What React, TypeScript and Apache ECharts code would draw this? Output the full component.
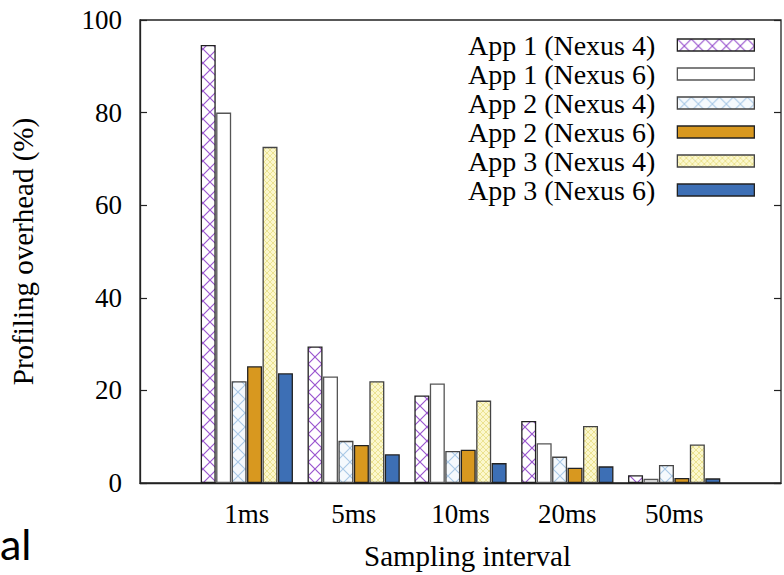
import React, { useEffect, useRef } from "react";
import * as echarts from "echarts";

const categories = ["1ms", "5ms", "10ms", "20ms", "50ms"];
const seriesNames = [
  "App 1 (Nexus 4)",
  "App 1 (Nexus 6)",
  "App 2 (Nexus 4)",
  "App 2 (Nexus 6)",
  "App 3 (Nexus 4)",
  "App 3 (Nexus 6)",
];
const app1Nexus4 = [94.6, 29.5, 18.9, 13.4, 1.7];
const app1Nexus6 = [80.0, 23.0, 21.5, 8.6, 0.9];
const app2Nexus4 = [22.0, 9.1, 6.9, 5.7, 3.9];
const app2Nexus6 = [25.2, 8.2, 7.2, 3.3, 1.1];
const app3Nexus4 = [72.6, 22.0, 17.8, 12.3, 8.3];
const app3Nexus6 = [23.7, 6.2, 4.3, 3.6, 1.0];
const yMin = 0;
const yMax = 100;
const yStep = 20;
const xTitle = "Sampling interval";
const yTitle = "Profiling overhead (%)";
const cornerText = "al";

const SERIF = "'Liberation Serif', 'Times New Roman', serif";
const INK = "#000";

function hatch(bg: string, stroke: string, size: number, sw: number) {
  const svg =
    `<svg xmlns='http://www.w3.org/2000/svg' width='${size}' height='${size}'>` +
    `<rect width='${size}' height='${size}' fill='${bg}'/>` +
    `<path d='M0 0L${size} ${size}M${size} 0L0 ${size}' stroke='${stroke}' stroke-width='${sw}' fill='none'/>` +
    `</svg>`;
  return {
    image: "data:image/svg+xml;charset=utf-8," + encodeURIComponent(svg),
    repeat: "repeat",
    imageWidth: size,
    imageHeight: size,
  };
}

export default function App() {
  const ref = useRef<HTMLDivElement>(null);

  useEffect(() => {
    if (!ref.current) return;
    const chart = echarts.init(ref.current, undefined, { renderer: "svg" });

    const values = [app1Nexus4, app1Nexus6, app2Nexus4, app2Nexus6, app3Nexus4, app3Nexus6];
    const fills: any[] = [
      hatch("#ffffff", "#9a55cf", 14, 1.2),
      "#ffffff",
      hatch("#f5f9fd", "#a9c8e6", 14, 1.1),
      "#d8981f",
      hatch("#fbf7cc", "#e9e08a", 6, 0.9),
      "#3d6fb5",
    ];
    const borders = ["#222222", "#555555", "#444444", "#222222", "#444444", "#222222"];

    const xCats = ["", ...categories, ""];

    const series = seriesNames.map((name, i) => ({
      name,
      type: "bar",
      barWidth: 15,
      barGap: "3%",
      data: [null, ...values[i], null],
      itemStyle: { color: fills[i], borderColor: borders[i], borderWidth: 1.3 },
      emphasis: { disabled: true },
    }));

    const option: any = {
      animation: false,
      backgroundColor: "#ffffff",
      textStyle: { fontFamily: SERIF },
      grid: {
        left: 140,
        right: -6,
        top: 20,
        bottom: 90,
        show: true,
        borderColor: "#222",
        borderWidth: 1.3,
        backgroundColor: "transparent",
      },
      legend: {
        orient: "vertical",
        right: 29,
        top: 31,
        padding: 0,
        align: "right",
        icon: "rect",
        itemWidth: 77,
        itemHeight: 12,
        itemGap: 1,
        selectedMode: false,
        data: seriesNames,
        itemStyle: { borderWidth: 1.3 },
        textStyle: {
          fontFamily: SERIF,
          fontSize: 28,
          color: INK,
          padding: [0, 17, 0, 0],
        },
      },
      xAxis: {
        type: "category",
        data: xCats,
        boundaryGap: false,
        axisLine: { show: true, lineStyle: { color: "#222", width: 1.3 } },
        axisTick: { show: false },
        splitLine: { show: false },
        axisLabel: {
          interval: 0,
          fontFamily: SERIF,
          fontSize: 27,
          color: INK,
          margin: 17,
        },
        name: xTitle,
        nameLocation: "middle",
        nameGap: 58,
        nameTextStyle: {
          fontFamily: SERIF,
          fontSize: 29,
          color: INK,
          padding: [0, 0, 0, 14],
        },
      },
      yAxis: [
        {
          type: "value",
          min: yMin,
          max: yMax,
          interval: yStep,
          axisLine: { show: true, lineStyle: { color: "#222", width: 1.3 } },
          axisTick: { show: true, inside: true, length: 7, lineStyle: { color: "#222", width: 1.2 } },
          splitLine: { show: false },
          axisLabel: { fontFamily: SERIF, fontSize: 27, color: INK, margin: 18 },
          name: yTitle,
          nameLocation: "middle",
          nameGap: 103,
          nameTextStyle: { fontFamily: SERIF, fontSize: 29, color: INK },
        },
        {
          type: "value",
          position: "right",
          min: yMin,
          max: yMax,
          interval: yStep,
          axisLine: { show: false },
          axisTick: { show: true, inside: true, length: 7, lineStyle: { color: "#222", width: 1.2 } },
          splitLine: { show: false },
          axisLabel: { show: false },
        },
      ],
      graphic: [
        {
          type: "text",
          left: 0,
          top: 522,
          style: {
            text: cornerText,
            fontFamily: "Lato, 'Open Sans', sans-serif",
            fontSize: 43,
            fill: "#000",
          },
        },
      ],
      series,
    };

    chart.setOption(option);
    return () => chart.dispose();
  }, []);

  return (
    <div
      ref={ref}
      style={{ position: "fixed", left: 0, top: 0, width: 784, height: 575, background: "#fff" }}
    />
  );
}
